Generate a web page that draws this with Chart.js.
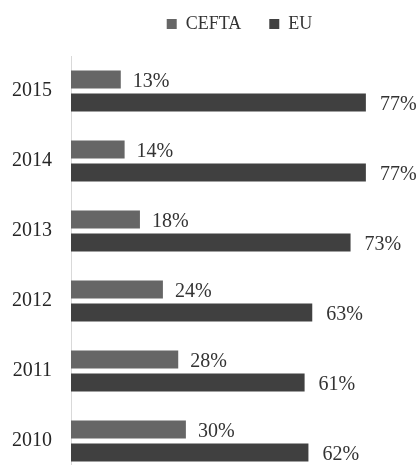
<!DOCTYPE html>
<html>
<head>
<meta charset="utf-8">
<script src="https://cdn.jsdelivr.net/npm/chart.js@4.4.0/dist/chart.umd.min.js"></script>
<style>
  html, body { margin: 0; padding: 0; background: #ffffff; overflow: hidden; }
  #wrap { position: relative; width: 420px; height: 465px; overflow: hidden; }
  #c { position: absolute; left: 0; top: -13px; }
</style>
</head>
<body>
<div id="wrap"><canvas id="c" width="420" height="520"></canvas></div>
<script>
const years = ['2015', '2014', '2013', '2012', '2011', '2010'];
const seriesNames = ['CEFTA', 'EU'];
const cefta = [13, 14, 18, 24, 28, 30];
const eu = [77, 77, 73, 63, 61, 62];

const COLORS = ['#666666', '#404040'];
const FONT = "'Liberation Serif', 'Times New Roman', serif";
Chart.defaults.font.family = FONT;

const legendSpacer = {
  id: 'legendSpacer',
  afterInit(chart) {
    const lg = chart.legend;
    if (lg && !lg._patched) {
      const orig = lg.fit;
      lg.fit = function () { orig.call(this); this.height += 13; };
      lg._patched = true;
    }
  }
};

const valueLabels = {
  id: 'valueLabels',
  afterDatasetsDraw(chart) {
    const ctx = chart.ctx;
    ctx.save();
    ctx.font = '20px ' + FONT;
    ctx.fillStyle = '#333333';
    ctx.textAlign = 'left';
    ctx.textBaseline = 'middle';
    chart.data.datasets.forEach((ds, di) => {
      const meta = chart.getDatasetMeta(di);
      meta.data.forEach((bar, i) => {
        const off = di === 0 ? 12 : 14;
        ctx.fillText(ds.data[i] + '%', bar.x + off, bar.y + 2);
      });
    });
    ctx.restore();
  }
};

new Chart(document.getElementById('c'), {
  type: 'bar',
  data: {
    labels: years,
    datasets: [
      { label: seriesNames[0], data: cefta, backgroundColor: COLORS[0] },
      { label: seriesNames[1], data: eu, backgroundColor: COLORS[1] }
    ]
  },
  options: {
    indexAxis: 'y',
    responsive: false,
    animation: false,
    categoryPercentage: 46 / 70,
    barPercentage: 18 / 23,
    layout: { padding: { left: 0, right: 12, top: 0, bottom: 0 } },
    plugins: {
      tooltip: { enabled: false },
      legend: {
        position: 'top',
        fullSize: false,
        labels: {
          boxWidth: 10,
          boxHeight: 10,
          padding: 28,
          color: '#333333',
          font: { size: 18, family: FONT }
        }
      }
    },
    scales: {
      x: { display: false, min: 0, max: 88 },
      y: {
        grid: { display: false, drawTicks: false },
        border: { display: true, color: '#d9d9d9', width: 1 },
        ticks: { color: '#262626', padding: 19, font: { size: 20, family: FONT } },
        afterFit(scale) { scale.width = 71; }
      }
    }
  },
  plugins: [legendSpacer, valueLabels]
});
</script>
</body>
</html>
